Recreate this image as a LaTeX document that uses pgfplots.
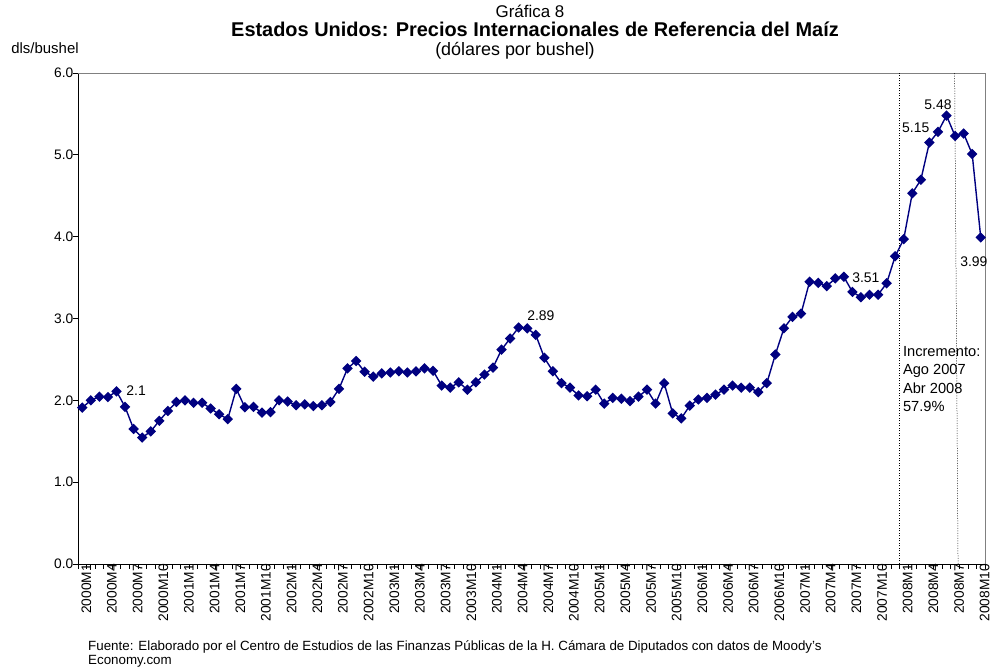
\documentclass[border=0pt]{standalone}
\usepackage{fontspec}
\setmainfont{Liberation Sans}
\usepackage{pgfplots}
\pgfplotsset{compat=1.18}
\definecolor{navy}{RGB}{0,0,128}
\definecolor{bordergray}{RGB}{128,128,128}
\begin{document}
\begin{tikzpicture}[x=1bp,y=1bp]
\path[use as bounding box] (0,0) rectangle (991,669);
\begin{axis}[
  at={(78bp,105bp)}, anchor=south west,
  scale only axis, width=907bp, height=491bp,
  xmin=-0.5, xmax=105.5, ymin=0, ymax=6,
  axis x line*=bottom, axis y line*=left,
  axis line style={black, line width=0.8bp},
  major tick length=0pt, minor tick length=5bp, tick align=outside,
  tick style={black, line width=0.7bp},
  xtick={0,3,...,105},
  minor xtick={-0.5,0.5,...,105.5},
  xticklabels={2000M1,2000M4,2000M7,2000M10,2001M1,2001M4,2001M7,2001M10,2002M1,2002M4,2002M7,2002M10,2003M1,2003M4,2003M7,2003M10,2004M1,2004M4,2004M7,2004M10,2005M1,2005M4,2005M7,2005M10,2006M1,2006M4,2006M7,2006M10,2007M1,2007M4,2007M7,2007M10,2008M1,2008M4,2008M7,2008M10},
  xticklabel style={rotate=90, anchor=east, font=\fontsize{13.8}{14}\selectfont, inner sep=0pt, yshift=-4bp},
  ytick={0,1,...,6},
  minor ytick={0,1,...,6},
  yticklabel={\pgfmathprintnumber[fixed,fixed zerofill,precision=1,assume math mode=true]{\tick}},
  yticklabel style={font=\fontsize{13.8}{14}\selectfont, inner sep=0pt, xshift=-4.5bp},
  clip=false,
]
\draw[bordergray, line width=0.8bp] (rel axis cs:0,1) -- (rel axis cs:1,1) -- (rel axis cs:1,0);
\draw[black, line width=0.5bp, dash pattern=on 1bp off 1.5bp] (axis cs:95.5,0) -- (axis cs:95.5,6);
\draw[black, line width=0.5bp, dash pattern=on 1bp off 1.5bp] (axis cs:102.35,0) -- (axis cs:101.95,6);
\addplot[color=navy, line width=1.4bp, mark=square*, mark size=3bp, mark options={rotate=45, fill=navy, draw=navy, solid}] coordinates {
(0,1.91) (1,2.00) (2,2.045) (3,2.04) (4,2.11) (5,1.92) (6,1.65) (7,1.545) (8,1.62) (9,1.75)
(10,1.87) (11,1.98) (12,2.00) (13,1.97) (14,1.97) (15,1.90) (16,1.83) (17,1.77) (18,2.14) (19,1.915)
(20,1.92) (21,1.85) (22,1.855) (23,2.00) (24,1.985) (25,1.94) (26,1.95) (27,1.93) (28,1.94) (29,1.98)
(30,2.14) (31,2.39) (32,2.48) (33,2.35) (34,2.29) (35,2.33) (36,2.34) (37,2.355) (38,2.34) (39,2.355)
(40,2.39) (41,2.36) (42,2.18) (43,2.155) (44,2.22) (45,2.13) (46,2.22) (47,2.315) (48,2.40) (49,2.62)
(50,2.755) (51,2.89) (52,2.88) (53,2.80) (54,2.52) (55,2.355) (56,2.21) (57,2.155) (58,2.06) (59,2.05)
(60,2.13) (61,1.96) (62,2.03) (63,2.02) (64,1.99) (65,2.045) (66,2.13) (67,1.96) (68,2.21) (69,1.84)
(70,1.78) (71,1.935) (72,2.01) (73,2.03) (74,2.07) (75,2.13) (76,2.18) (77,2.155) (78,2.155) (79,2.10)
(80,2.21) (81,2.56) (82,2.88) (83,3.02) (84,3.06) (85,3.45) (86,3.435) (87,3.395) (88,3.49) (89,3.51)
(90,3.325) (91,3.26) (92,3.29) (93,3.29) (94,3.43) (95,3.76) (96,3.97) (97,4.53) (98,4.695) (99,5.15)
(100,5.28) (101,5.48) (102,5.23) (103,5.26) (104,5.01) (105,3.99)
};
\begin{scope}[every node/.style={font=\fontsize{14}{15}\selectfont, inner sep=0pt}]
\node at (axis cs:6.3,2.114) {2.1};
\node at (axis cs:53.6,3.03) {2.89};
\node at (axis cs:91.57,3.503) {3.51};
\node at (axis cs:97.4,5.33) {5.15};
\node at (axis cs:100.0,5.61) {5.48};
\node at (axis cs:104.2,3.694) {3.99};
\end{scope}
\node[anchor=north west, align=left, inner sep=0pt, font=\fontsize{14.7}{18.3}\selectfont] at (axis cs:95.9,2.66) {Incremento:\\Ago 2007\\Abr 2008\\57.9\%};
\end{axis}
\node[anchor=base, inner sep=0pt, font=\fontsize{17}{19}\selectfont] at (530,651) {Gráfica 8};
\node[anchor=base, inner sep=0pt, font=\fontsize{20}{22}\selectfont\bfseries] at (535,632) {Estados Unidos: Precios Internacionales de Referencia del Maíz};
\node[anchor=base, inner sep=0pt, font=\fontsize{18}{20}\selectfont] at (515,613) {(dólares por bushel)};
\node[font=\fontsize{15}{16}\selectfont] at (45,621) {dls/bushel};
\node[anchor=north west, align=left, inner sep=0pt, font=\fontsize{13.4}{15}\selectfont] at (88,29) {Fuente: Elaborado por el Centro de Estudios de las Finanzas Públicas de la H. Cámara de Diputados con datos de Moody's\\Economy.com};
\end{tikzpicture}
\end{document}
